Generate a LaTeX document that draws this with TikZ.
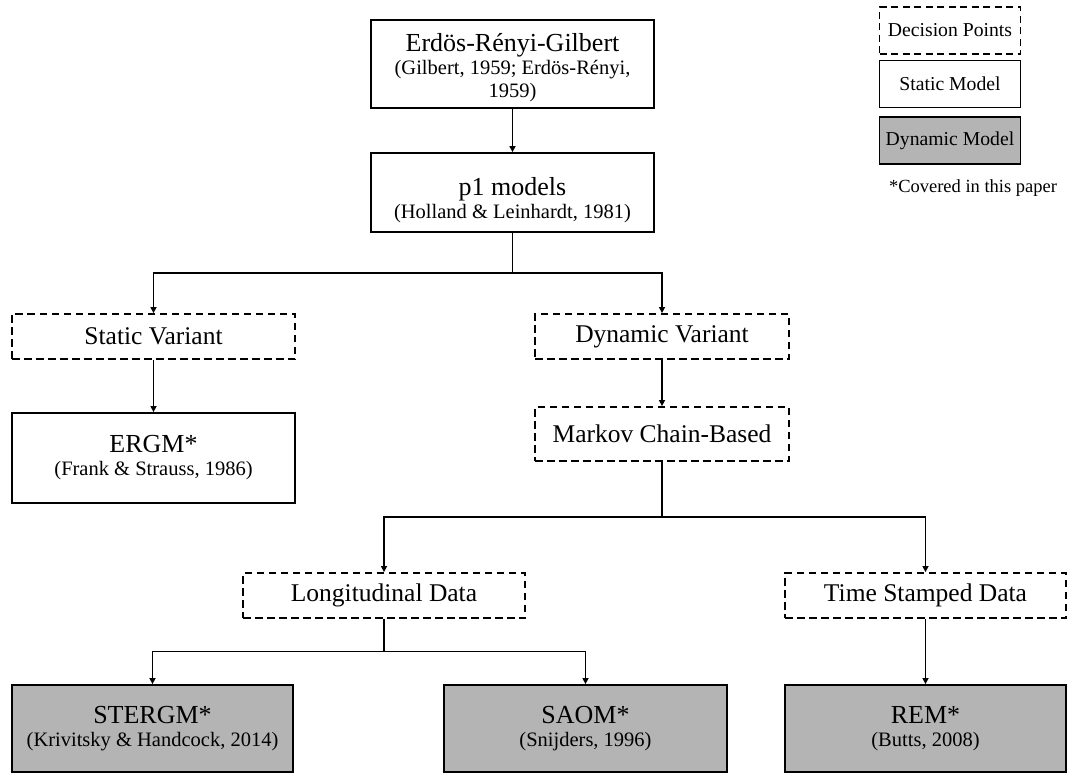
\documentclass[tikz,border=0pt]{standalone}
\usepackage{fontspec}
\setmainfont{Liberation Serif}
\usetikzlibrary{arrows.meta}
\definecolor{dyngray}{RGB}{180,180,180}
% headline inside a model box
\newcommand{\ttl}[1]{{\fontsize{26}{30}\selectfont #1}}

\begin{document}
\begin{tikzpicture}[x=1pt,y=-1pt,
  staticbox/.style={draw=black, line width=1.8pt, fill=white, align=center,
    inner sep=0pt, font=\fontsize{20.5}{23}\selectfont},
  dynbox/.style={staticbox, fill=dyngray},
  decision/.style={draw=black, line width=1.8pt, dash pattern=on 7.5pt off 4.5pt,
    align=center, inner sep=0pt, font=\fontsize{25.5}{30}\selectfont},
  legendbox/.style={draw=black, line width=1.8pt, align=center, inner sep=0pt,
    minimum width=141pt, minimum height=47pt, font=\fontsize{19.7}{23}\selectfont},
  link/.style={line width=1.4pt},
  conn/.style={link, -{Triangle[length=6pt,width=6pt]}}
]
\useasboundingbox (0,0) rectangle (1068,774);

% ---- main tree ----
\node[staticbox, minimum width=283pt, minimum height=88pt] (erdos) at (512.5,64)
  {\ttl{\rule{0pt}{26pt}Erdös-Rényi-Gilbert}\\ (Gilbert, 1959; Erdös-Rényi,\\ 1959)};
\node[staticbox, minimum width=283pt, minimum height=79pt] (p1) at (512.5,192.5)
  {\ttl{\rule{0pt}{34pt}p1 models}\\ (Holland \& Leinhardt, 1981)};

\node[decision, minimum width=283pt, minimum height=45pt] (static) at (153.5,336.5) {Static Variant};
\node[decision, minimum width=254pt, minimum height=45pt] (dynamic) at (662,336.5) {Dynamic Variant};

\node[staticbox, minimum width=283pt, minimum height=90pt] (ergm) at (153.5,458)
  {\ttl{ERGM*}\\ (Frank \& Strauss, 1986)};
\node[decision, minimum width=254pt, minimum height=54pt] (markov) at (662,434) {Markov Chain-Based};

\node[decision, minimum width=282pt, minimum height=45pt] (longi) at (384,595.5) {Longitudinal Data};
\node[decision, minimum width=281pt, minimum height=45pt] (timest) at (925.5,595.5) {Time Stamped Data};

\node[dynbox, minimum width=281pt, minimum height=87pt] (stergm) at (152.5,728.5)
  {\ttl{STERGM*}\\ (Krivitsky \& Handcock, 2014)};
\node[dynbox, minimum width=283pt, minimum height=87pt] (saom) at (585.5,728.5)
  {\ttl{SAOM*}\\ (Snijders, 1996)};
\node[dynbox, minimum width=281pt, minimum height=87pt] (rem) at (925.5,728.5)
  {\ttl{REM*}\\ (Butts, 2008)};

% ---- branching points ----
\coordinate (j1) at (512.5,273);
\coordinate (j2) at (662,517);
\coordinate (j3) at (384,651.5);

% ---- connectors ----
\draw[conn] (erdos) -- (p1);
\draw[link] (p1.south) -- (j1);
\draw[conn] (j1) -| (static.north);
\draw[conn] (j1) -| (dynamic.north);
\draw[conn] (static) -- (ergm);
\draw[conn] (dynamic) -- (markov);
\draw[link] (markov.south) -- (j2);
\draw[conn] (j2) -| (longi.north);
\draw[conn] (j2) -| (timest.north);
\draw[link] (longi.south) -- (j3);
\draw[conn] (j3) -| (stergm.north);
\draw[conn] (j3) -| (saom.north);
\draw[conn] (timest) -- (rem);

% ---- legend ----
\node[legendbox, dash pattern=on 7pt off 4.5pt] (lgdec) at (950,30.5) {Decision Points};
\node[legendbox, fill=white] (lgstat) at (950,84) {Static Model};
\node[legendbox, fill=dyngray] (lgdyn) at (950,140.5) {Dynamic Model};
\node[font=\fontsize{18.5}{22}\selectfont, inner sep=0pt] (lgnote) at (973,188) {*Covered in this paper};
\end{tikzpicture}
\end{document}
